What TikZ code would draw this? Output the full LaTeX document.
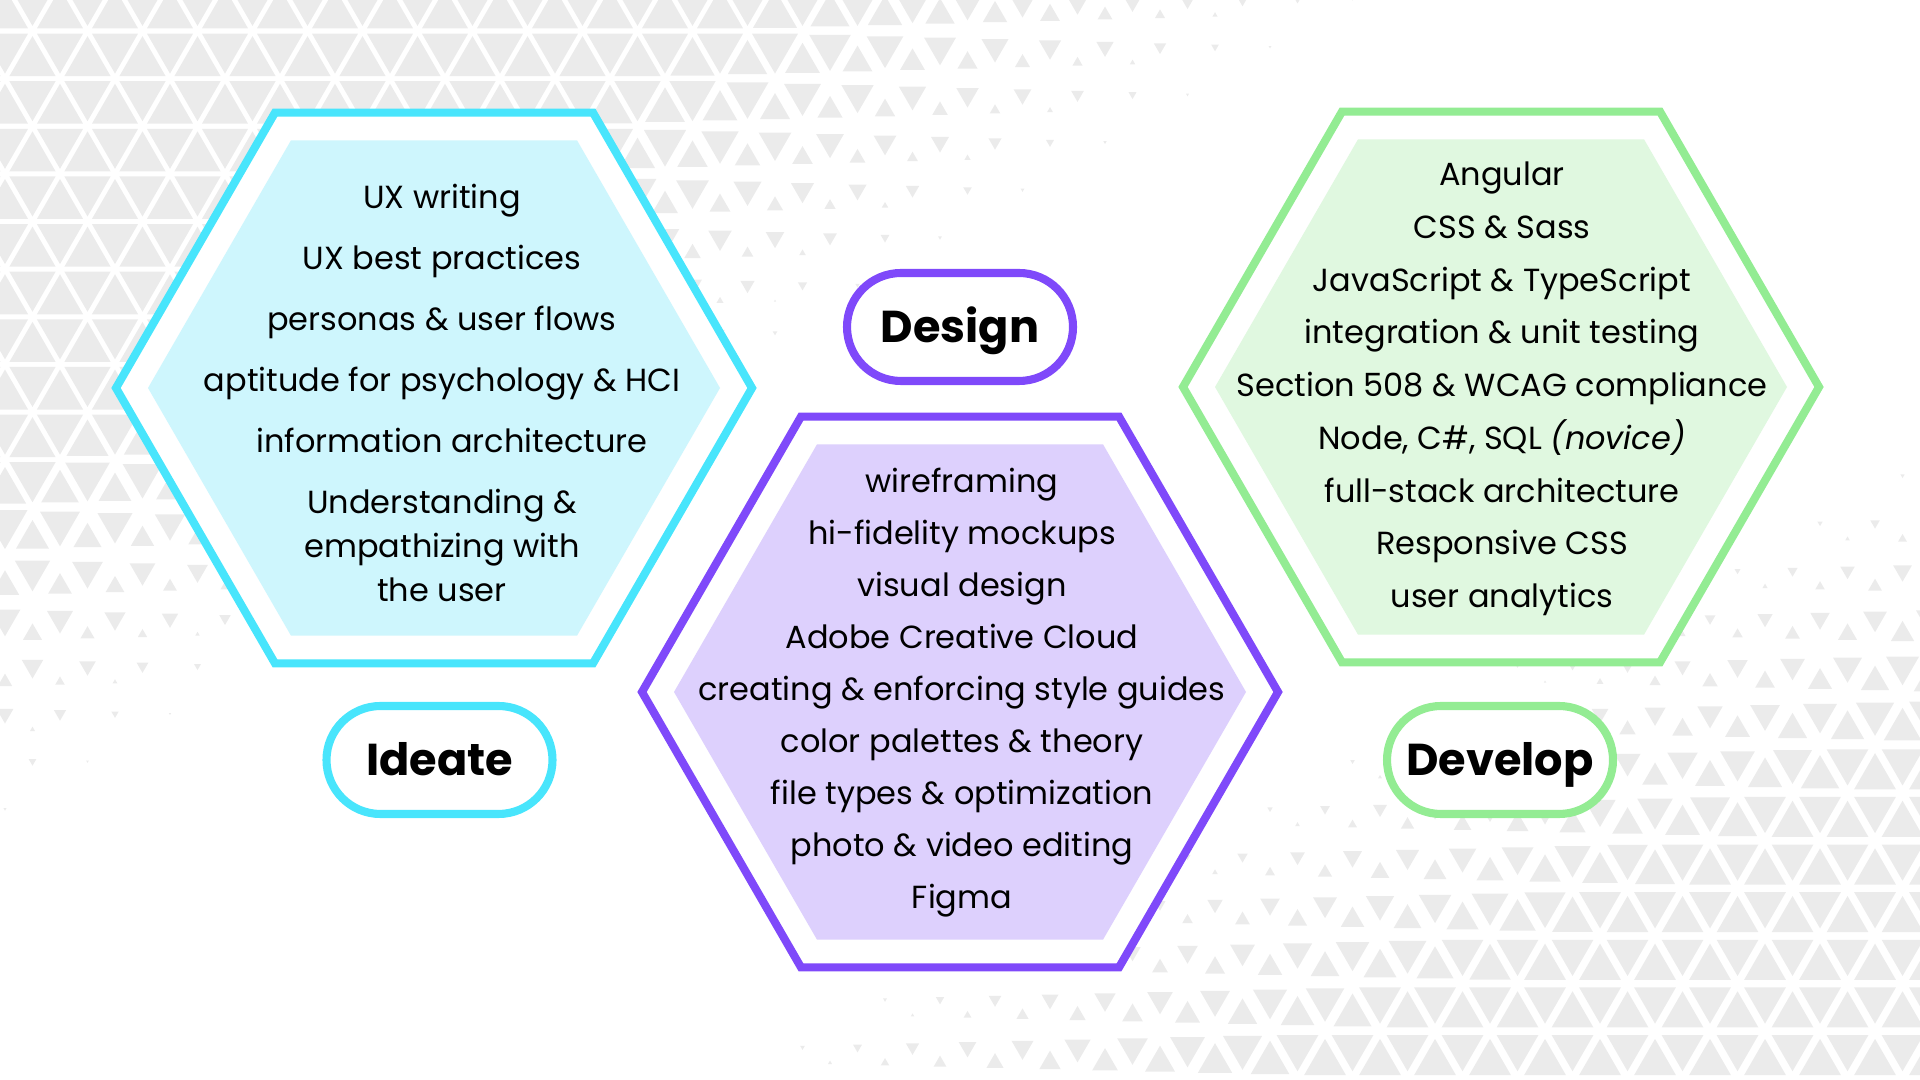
\documentclass[tikz,border=0pt]{standalone}
\usepackage{fontspec}
\setmainfont{Poppins}
\usetikzlibrary{shapes.geometric}
\definecolor{ideatecyan}{HTML}{48E5FC}
\definecolor{ideatefill}{HTML}{CEF6FD}
\definecolor{designpurple}{HTML}{7F49FA}
\definecolor{designfill}{HTML}{DDD0FD}
\definecolor{developgreen}{HTML}{93EC93}
\definecolor{developfill}{HTML}{E0F8E0}
\definecolor{tilegray}{HTML}{EBEBEB}
\tikzset{
  hexring/.style={regular polygon,regular polygon sides=6,minimum size=6.36cm,inner sep=0pt,fill=white,line width=2.3pt},
  hexcore/.style={regular polygon,regular polygon sides=6,minimum size=5.72cm,inner sep=0pt},
  pill/.style={rectangle,rounded corners=.54cm,minimum width=2.26cm,minimum height=1.08cm,inner sep=0pt,
    text height=.36cm,text depth=.05cm,fill=white,line width=2.3pt,font=\fontsize{12.7}{15}\selectfont\bfseries},
  skills/.style={align=center,font=\fontsize{9.1}{14.8}\selectfont}
}
\newcommand\tile[3]{% x, y, apex angle
  \pgfmathsetmacro\dA{0.856*(#2-2.96)-0.517*#1}
  \pgfmathsetmacro\dB{0.459*(#1-6.12)-0.888*#2}
  \pgfmathsetmacro\tr{0.3175*max(0.84*min(1,\dA/2.7),0.76*min(1,\dB/2.45))}
  \ifdim\tr pt>0.012pt
    \fill[tilegray] (#1,#2) +(#3:\tr) -- +(#3+120:\tr) -- +(#3+240:\tr) -- cycle;
  \fi}
\begin{document}
\begin{tikzpicture}
  \useasboundingbox (0,0) rectangle (19.2,10.8);
  \begin{scope}
    \clip (0,0) rectangle (19.2,10.8);
    \foreach \j in {0,...,23}{
      \foreach \i in {-1,...,35}{
        \pgfmathsetmacro\ytop{10.966-0.4763*\j}
        \pgfmathsetmacro\xo{0.275*mod(\j,2)+0.05+0.55*\i}
        \tile{\xo+0.275}{\ytop-0.1588}{270}
        \tile{\xo}{\ytop-0.3175}{90}
      }
    }
  \end{scope}

  \node[hexring,draw=ideatecyan] (ideatehex) at (4.34,6.92) {};
  \node[hexcore,fill=ideatefill] (ideatecore) at (4.34,6.92) {};
  \node[hexring,draw=designpurple] (designhex) at (9.60,3.88) {};
  \node[hexcore,fill=designfill] (designcore) at (9.60,3.88) {};
  \node[hexring,draw=developgreen] (develophex) at (15.01,6.93) {};
  \node[hexcore,fill=developfill] (developcore) at (15.01,6.93) {};

  \node[skills,font=\fontsize{9.1}{12.5}\selectfont] (ideatelist) at (4.42,6.87) {UX writing\\[4.9pt]
    UX best practices\\[4.9pt]
    personas \& user flows\\[4.9pt]
    aptitude for psychology \& HCI\\[4.9pt]
    \hspace*{.2cm}information architecture\\[4.9pt]
    Understanding \&\\ empathizing with\\ the user};
  \node[skills] (designlist) at (9.62,3.87) {wireframing\\
    hi-fidelity mockups\\
    visual design\\
    Adobe Creative Cloud\\
    creating \& enforcing style guides\\
    color palettes \& theory\\
    file types \& optimization\\
    photo \& video editing\\
    Figma};
  \node[skills,font=\fontsize{9.1}{15}\selectfont] (developlist) at (15.02,6.91) {Angular\\
    CSS \& Sass\\
    JavaScript \& TypeScript\\
    integration \& unit testing\\
    Section 508 \& WCAG compliance\\
    Node, C\#, SQL \textit{(novice)}\\
    full-stack architecture\\
    Responsive CSS\\
    user analytics};

  \node[pill,draw=designpurple] (design) at (9.60,7.53) {Design};
  \node[pill,draw=ideatecyan] (ideate) at (4.395,3.20) {Ideate};
  \node[pill,draw=developgreen] (develop) at (15.00,3.20) {Develop};
\end{tikzpicture}
\end{document}
